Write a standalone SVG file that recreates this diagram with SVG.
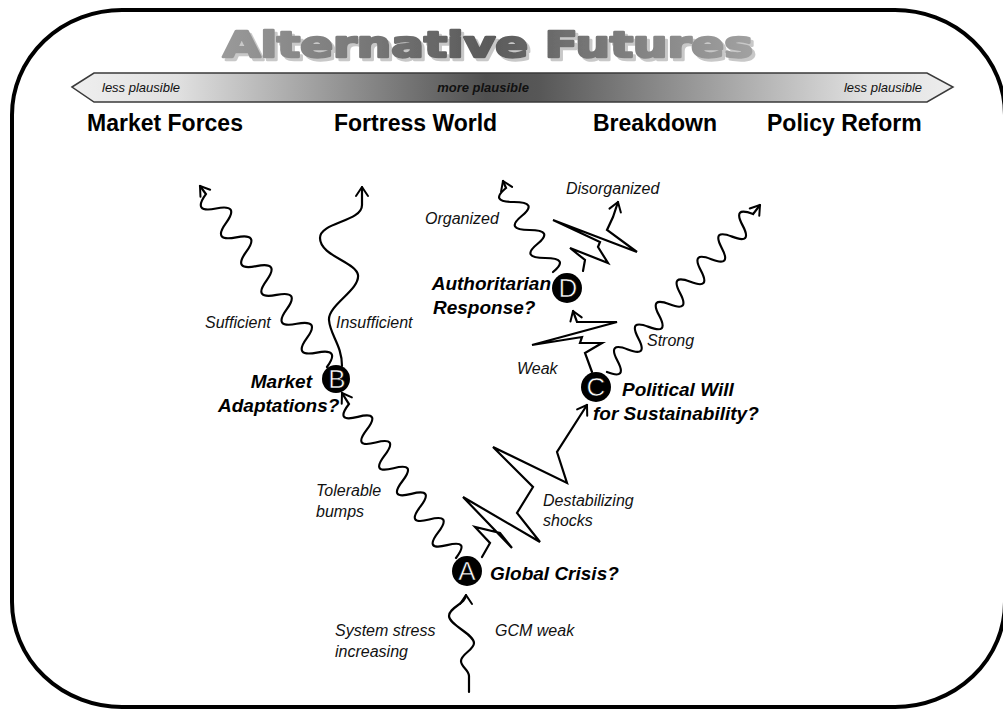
<svg xmlns="http://www.w3.org/2000/svg" width="1003" height="710" viewBox="0 0 1003 710">
  <defs>
    <linearGradient id="band" gradientUnits="userSpaceOnUse" x1="72" y1="0" x2="953" y2="0">
      <stop offset="0" stop-color="#efefef"/>
      <stop offset="0.12" stop-color="#e0e0e0"/>
      <stop offset="0.47" stop-color="#505050"/>
      <stop offset="0.53" stop-color="#575757"/>
      <stop offset="0.9" stop-color="#e0e0e0"/>
      <stop offset="1" stop-color="#ededed"/>
    </linearGradient>
    <linearGradient id="titleFill" gradientUnits="userSpaceOnUse" x1="222" y1="0" x2="755" y2="0">
      <stop offset="0" stop-color="#9a9a9a"/>
      <stop offset="0.5" stop-color="#5a5a5a"/>
      <stop offset="1" stop-color="#a2a2a2"/>
    </linearGradient>
    <filter id="titleShadow" x="-5%" y="-30%" width="110%" height="160%">
      <feOffset in="SourceAlpha" dx="3" dy="3" result="off"/>
      <feFlood flood-color="#c8c8c8"/>
      <feComposite in2="off" operator="in" result="sh"/>
      <feMerge>
        <feMergeNode in="sh"/>
        <feMergeNode in="SourceGraphic"/>
      </feMerge>
    </filter>
    <marker id="ah" viewBox="-12 -8 14 16" refX="0" refY="0" markerWidth="14" markerHeight="16" markerUnits="userSpaceOnUse" orient="auto">
      <path d="M-9,-6 L0,0 L-9,6" fill="none" stroke="#000" stroke-width="2" stroke-linecap="round" stroke-linejoin="round"/>
    </marker>
    <style>
      .frame { fill: #fff; stroke: #000; stroke-width: 4; }
      .title { font-family: "DejaVu Sans", "Liberation Sans", sans-serif; font-weight: bold; font-size: 35px; stroke: url(#titleFill); stroke-width: 2.4; stroke-linejoin: round; }
      .band-t { font-family: "Liberation Sans", Arial, sans-serif; font-style: italic; font-size: 13px; fill: #111; }
      .scen { font-family: "Liberation Sans", Arial, sans-serif; font-weight: bold; font-size: 23px; fill: #000; }
      .q { font-family: "Liberation Sans", Arial, sans-serif; font-weight: bold; font-style: italic; font-size: 19px; fill: #000; }
      .lbl { font-family: "Liberation Sans", Arial, sans-serif; font-style: italic; font-size: 16px; fill: #111; }
      .disc { fill: #000; }
      .letter { font-family: "Liberation Sans", Arial, sans-serif; font-size: 26px; fill: #fff; stroke: #000; stroke-width: 0.6; text-anchor: middle; }
      .path { fill: none; stroke: #000; stroke-width: 2.2; stroke-linejoin: miter; stroke-linecap: round; marker-end: url(#ah); }
    </style>
  </defs>

  <!-- outer rounded frame -->
  <rect class="frame" x="12" y="10" width="993" height="697" rx="110" ry="105"/>

  <!-- heading with offset shadow -->
  <g id="title" filter="url(#titleShadow)">
    <text class="title" x="223" y="57" fill="url(#titleFill)" textLength="530" lengthAdjust="spacingAndGlyphs">Alternative Futures</text>
  </g>

  <!-- plausibility band -->
  <g id="plausibility-band">
    <polygon points="72,87 94,73 927,73 953,87 927,102 94,102" fill="url(#band)" stroke="#3a3a3a" stroke-width="1.5"/>
    <text class="band-t" x="102" y="92">less plausible</text>
    <text class="band-t" x="483" y="92" text-anchor="middle" font-weight="bold">more plausible</text>
    <text class="band-t" x="922" y="92" text-anchor="end">less plausible</text>
  </g>

  <!-- scenario names -->
  <g id="scenarios">
    <text class="scen" x="87" y="131">Market Forces</text>
    <text class="scen" x="334" y="131">Fortress World</text>
    <text class="scen" x="593" y="131">Breakdown</text>
    <text class="scen" x="767" y="131">Policy Reform</text>
  </g>

  <!-- branching paths -->
  <g id="connectors">
    <!-- system stress rising into A -->
    <path class="path" d="M469,692 L469,676 C469,670 461,667 461,661 C461,654 474,650 474,643 C474,634 449,625 449,616 C449,607 466,604 466,595"/>
    <!-- A to B: tolerable bumps -->
    <path class="path" d="M456,558 q14.5,-18.9 -8.92,-12.83 t-8.92,-12.83 t-8.92,-12.83 t-8.92,-12.83 t-8.92,-12.83 t-8.92,-12.83 t-8.92,-12.83 t-8.92,-12.83 t-8.92,-12.83 t-8.92,-12.83 t-8.92,-12.83 t-8.92,-12.83 L342,393"/>
    <!-- A to C: destabilizing shocks -->
    <path class="path" d="M482,557 L490,543 L475,527 L500,533 L512,548 L463,497 L540,542 L517,513 L533,487 L493,447 L567,483 L557,452 L587,405"/>
    <!-- B: sufficient -->
    <path class="path" d="M327,367 q14.0,-19.2 -10.09,-14.41 t-10.09,-14.41 t-10.09,-14.41 t-10.09,-14.41 t-10.09,-14.41 t-10.09,-14.41 t-10.09,-14.41 t-10.09,-14.41 t-10.09,-14.41 t-10.09,-14.41 t-10.09,-14.41 t-10.09,-14.41 L200,186"/>
    <!-- B: insufficient -->
    <path class="path" d="M342,366 C342,345 330,335 329,320 C328,305 360,290 358,275 C356,262 320,256 320,238 C320,222 362,222 362,205 L362,187"/>
    <!-- C: strong -->
    <path class="path" d="M607,372 q20.8,8.2 10.43,-11.28 t10.43,-11.28 t10.43,-11.28 t10.43,-11.28 t10.43,-11.28 t10.43,-11.28 t10.43,-11.28 t10.43,-11.28 t10.43,-11.28 t10.43,-11.28 t10.43,-11.28 t10.43,-11.28 t10.43,-11.28 t10.43,-11.28 L760,205"/>
    <!-- C to D: weak -->
    <path class="path" d="M592,372 L585,353 L602,343 L580,343 L582,337 L532,345 L617,322 L577,322 L573,311"/>
    <!-- D: organized -->
    <path class="path" d="M553,272 q17.1,-14.0 -7.83,-14 t-7.83,-14 t-7.83,-14 t-7.83,-14 t-7.83,-14 t-7.83,-14 L503,181"/>
    <!-- D: disorganized -->
    <path class="path" d="M583,271 L585,260 L570,248 L608,263 L598,247 L600,242 L553,220 L637,252 L607,230 L613,217 L618,202"/>
  </g>

  <!-- branch labels -->
  <g id="branch-labels">
    <text class="lbl" x="335" y="636">System stress</text>
    <text class="lbl" x="335" y="657">increasing</text>
    <text class="lbl" x="495" y="636">GCM weak</text>
    <text class="lbl" x="316" y="496">Tolerable</text>
    <text class="lbl" x="316" y="517">bumps</text>
    <text class="lbl" x="543" y="506">Destabilizing</text>
    <text class="lbl" x="543" y="526">shocks</text>
    <text class="lbl" x="205" y="328">Sufficient</text>
    <text class="lbl" x="336" y="328">Insufficient</text>
    <text class="lbl" x="647" y="346">Strong</text>
    <text class="lbl" x="517" y="374">Weak</text>
    <text class="lbl" x="425" y="224">Organized</text>
    <text class="lbl" x="566" y="194">Disorganized</text>
  </g>

  <!-- decision nodes -->
  <g id="node-a">
    <circle class="disc" cx="467" cy="571" r="15"/>
    <text class="letter" x="467" y="580">A</text>
    <text class="q" x="490" y="580">Global Crisis?</text>
  </g>
  <g id="node-b">
    <circle class="disc" cx="336" cy="379" r="14"/>
    <text class="letter" x="337" y="388">B</text>
    <text class="q" x="312" y="388" text-anchor="end">Market</text>
    <text class="q" x="218" y="412">Adaptations?</text>
  </g>
  <g id="node-c">
    <circle class="disc" cx="596" cy="387" r="15"/>
    <text class="letter" x="596" y="396">C</text>
    <text class="q" x="622" y="396">Political Will</text>
    <text class="q" x="593" y="420">for Sustainability?</text>
  </g>
  <g id="node-d">
    <circle class="disc" cx="567" cy="288" r="15"/>
    <text class="letter" x="568" y="297">D</text>
    <text class="q" x="551" y="290" text-anchor="end">Authoritarian</text>
    <text class="q" x="433" y="314">Response?</text>
  </g>
</svg>
